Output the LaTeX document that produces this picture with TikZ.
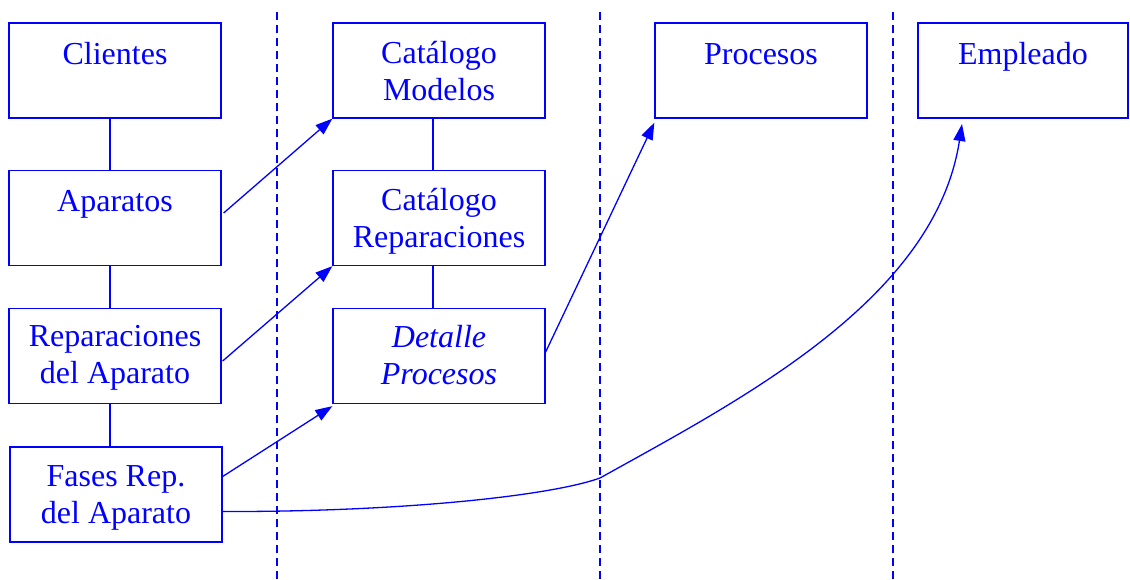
\documentclass[tikz,border=0pt]{standalone}
\usepackage{fontspec}
\setmainfont{Liberation Serif}
\usetikzlibrary{arrows.meta}
\begin{document}
\begin{tikzpicture}[x=1pt,y=-1pt,
  box/.style={draw=blue, line width=1.3pt, minimum width=212pt, minimum height=95pt, inner sep=0pt},
  txt/.style={text=blue, font=\fontsize{32}{37}\selectfont, align=center, anchor=base, inner sep=0pt},
  link/.style={draw=blue, line width=1.3pt},
  arr/.style={draw=blue, line width=1.3pt, -{Triangle[length=17pt,width=12pt]}},
  sep/.style={draw=blue, line width=1.3pt, dash pattern=on 8pt off 5pt}]
\useasboundingbox (0,0) rectangle (1130,579);
% separators
\coordinate (s1t) at (277,12); \coordinate (s1b) at (277,579);
\coordinate (s2t) at (600,12); \coordinate (s2b) at (600,579);
\coordinate (s3t) at (893,12); \coordinate (s3b) at (893,579);
\draw[sep] (s1t) -- (s1b);
\draw[sep] (s2t) -- (s2b);
\draw[sep] (s3t) -- (s3b);
% boxes
\node[box] (clientes) at (115,70.5) {};
\node[box] (aparatos) at (115,218) {};
\node[box] (repar) at (115,356) {};
\node[box] (fases) at (116,494.5) {};
\node[box] (modelos) at (439,70.5) {};
\node[box] (catrep) at (439,218) {};
\node[box] (detalle) at (439,356) {};
\node[box] (procesos) at (761,70.5) {};
\node[box, minimum width=210pt] (empleado) at (1023,70.5) {};
% texts (base = last line's baseline)
\node[txt] (tclientes) at ([yshift=-42pt]clientes.north) {Clientes};
\node[txt] (taparatos) at ([yshift=-42pt]aparatos.north) {Aparatos};
\node[txt] (trepar) at ([yshift=-76pt]repar.north) {Reparaciones\\del Aparato};
\node[txt] (tfases) at ([yshift=-77pt]fases.north) {Fases Rep.\\del Aparato};
\node[txt] (tmodelos) at ([yshift=-78pt]modelos.north) {Catálogo\\Modelos};
\node[txt] (tcatrep) at ([yshift=-78pt]catrep.north) {Catálogo\\Reparaciones};
\node[txt, font=\fontsize{32}{37}\selectfont\itshape] (tdetalle) at ([yshift=-77pt]detalle.north) {Detalle\\Procesos};
\node[txt] (tprocesos) at ([yshift=-42pt]procesos.north) {Procesos};
\node[txt] (templeado) at ([yshift=-42pt]empleado.north) {Empleado};
% vertical links
\draw[link] ([xshift=-5pt]clientes.south) -- ([xshift=-5pt]aparatos.north);
\draw[link] ([xshift=-5pt]aparatos.south) -- ([xshift=-5pt]repar.north);
\draw[link] ([xshift=-5pt]repar.south) -- ([xshift=-6pt]fases.north);
\draw[link] ([xshift=-6pt]modelos.south) -- ([xshift=-6pt]catrep.north);
\draw[link] ([xshift=-6pt]catrep.south) -- ([xshift=-6pt]detalle.north);
% arrows
\draw[arr] ([xshift=2pt,yshift=5pt]aparatos.east) -- (modelos.south west);
\draw[arr] ([xshift=1pt,yshift=-5pt]repar.east) -- (catrep.south west);
\draw[arr] ([yshift=18pt]fases.east) -- ([yshift=-2pt]detalle.south west);
\draw[arr] ([yshift=4pt]detalle.east) -- ([yshift=-4pt]procesos.south west);
\coordinate (empin) at (962,124);
\coordinate (cmid) at (600,478);
\draw[arr] ([yshift=-17pt]fases.east) .. controls (400,512) and (550,496) .. (cmid)
  .. controls (740,400) and (935,300) .. (empin);
\end{tikzpicture}
\end{document}
